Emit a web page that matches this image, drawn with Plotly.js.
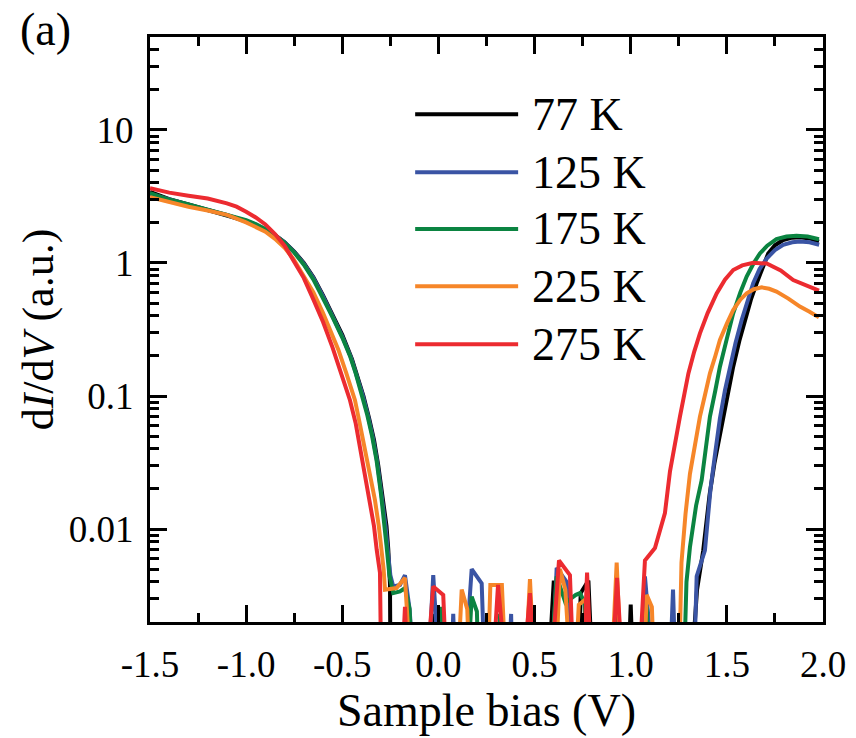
<!DOCTYPE html>
<html>
<head>
<meta charset="utf-8">
<script src="https://cdn.plot.ly/plotly-3.0.1.min.js"></script>
<style>html,body{margin:0;padding:0;background:#fff;}#chart{width:856px;height:738px;}</style>
</head>
<body>
<div id="chart"></div>
<script>
// Z = value below the visible range (curve drops out of the log window)
const Z = 0.0004;

const seriesNames = ["77 K", "125 K", "175 K", "225 K", "275 K"];
const seriesColors = ["#000000", "#3a54a4", "#0b8441", "#f68629", "#ec2b30"];

const bias77 = [-1.5,-1.4,-1.3,-1.2,-1.1,-1.0,-0.95,-0.9,-0.85,-0.8,-0.75,-0.7,-0.65,-0.6,-0.55,-0.5,-0.45,-0.42,-0.39,-0.36,-0.335,-0.313,-0.287,-0.27,-0.261,-0.252,-0.248,
  -0.05,-0.03,-0.015,0.56,0.6,0.63,0.72,0.74,0.78,0.81,0.98,1.0,1.02,
  1.3,1.345,1.377,1.41,1.435,1.464,1.5,1.533,1.565,1.594,1.625,1.655,1.685,1.715,1.75,1.793,1.84,1.88,1.93,1.979];
const dIdV77 = [3.42,3.02,2.75,2.5,2.3,2.07,1.94,1.78,1.62,1.43,1.22,1.0,0.78,0.57,0.407,0.288,0.19,0.141,0.1,0.0676,0.0468,0.0302,0.0166,0.0105,0.0071,0.0039,Z,
  Z,0.0023,Z,Z,0.0041,Z,Z,0.0033,0.0041,Z,Z,0.0027,Z,
  Z,0.0035,0.0069,0.018,0.031,0.052,0.095,0.166,0.26,0.373,0.53,0.704,0.92,1.18,1.36,1.49,1.55,1.56,1.53,1.45];

const bias125 = [-1.5,-1.4,-1.3,-1.2,-1.1,-1.0,-0.95,-0.9,-0.85,-0.8,-0.75,-0.7,-0.65,-0.6,-0.55,-0.5,-0.455,-0.425,-0.395,-0.365,-0.34,-0.317,-0.292,-0.275,-0.262,-0.25,-0.235,-0.2,-0.174,-0.15,-0.113,
  -0.065,-0.027,0.017,0.06,0.077,0.095,0.121,0.173,0.225,0.248,0.355,0.378,0.39,0.58,0.615,0.667,0.702,1.04,1.074,1.135,1.195,1.22,1.24,
  1.322,1.343,1.386,1.415,1.44,1.464,1.49,1.516,1.545,1.577,1.607,1.637,1.67,1.707,1.75,1.793,1.84,1.88,1.93,1.98];
const dIdV125 = [3.3,3.0,2.75,2.5,2.3,2.05,1.93,1.79,1.62,1.43,1.21,0.99,0.77,0.56,0.4,0.28,0.195,0.145,0.103,0.07,0.048,0.031,0.017,0.0105,0.0066,0.0045,0.0037,0.0038,0.0045,0.0025,Z,
  Z,0.0045,Z,Z,0.0023,Z,Z,0.005,0.0039,Z,Z,0.0023,Z,Z,0.0051,0.004,Z,Z,0.0044,Z,Z,0.0035,Z,
  Z,0.0044,0.0069,0.02,0.038,0.068,0.11,0.166,0.25,0.373,0.52,0.704,0.9,1.08,1.25,1.37,1.43,1.45,1.43,1.37];

const bias175 = [-1.5,-1.4,-1.3,-1.2,-1.1,-1.0,-0.95,-0.9,-0.85,-0.8,-0.75,-0.7,-0.65,-0.6,-0.55,-0.5,-0.46,-0.43,-0.4,-0.37,-0.345,-0.322,-0.298,-0.28,-0.27,-0.255,-0.235,-0.2,-0.174,-0.15,-0.125,
  0.0,0.017,0.035,0.14,0.173,0.2,0.215,0.3,0.32,0.34,0.45,0.476,0.5,0.57,0.615,0.66,0.715,0.736,0.76,0.78,0.9,0.927,0.95,1.06,1.083,1.105,
  1.27,1.29,1.308,1.34,1.369,1.39,1.412,1.44,1.464,1.5,1.533,1.57,1.603,1.64,1.672,1.71,1.758,1.81,1.862,1.92,1.979];
const dIdV175 = [3.35,3.0,2.75,2.52,2.33,2.1,1.96,1.8,1.62,1.42,1.2,0.97,0.75,0.55,0.39,0.275,0.2,0.148,0.106,0.072,0.05,0.033,0.018,0.011,0.0075,0.0045,0.0033,0.0034,0.0036,0.0025,Z,
  Z,0.0026,Z,Z,0.0031,0.0024,Z,Z,0.0023,Z,Z,0.0026,Z,Z,0.0044,0.0028,0.0032,0.0033,0.0028,Z,Z,0.0026,Z,Z,0.0026,Z,
  Z,0.004,0.0073,0.015,0.0233,0.04,0.07,0.11,0.166,0.27,0.418,0.6,0.79,1.0,1.18,1.35,1.51,1.58,1.6,1.58,1.51];

const bias225 = [-1.5,-1.4,-1.3,-1.2,-1.1,-1.0,-0.95,-0.9,-0.85,-0.8,-0.755,-0.7,-0.65,-0.6,-0.55,-0.52,-0.48,-0.434,-0.41,-0.382,-0.355,-0.33,-0.31,-0.295,-0.285,-0.278,-0.218,-0.174,-0.131,
  0.09,0.121,0.15,0.17,0.25,0.27,0.33,0.36,0.44,0.476,0.51,0.6,0.632,0.66,0.7,0.73,0.77,0.83,0.89,0.927,0.96,1.06,1.083,1.11,1.13,
  1.247,1.264,1.285,1.308,1.335,1.36,1.385,1.412,1.44,1.464,1.5,1.533,1.57,1.603,1.64,1.681,1.72,1.758,1.82,1.88,1.93,1.979];
const dIdV225 = [3.12,2.85,2.65,2.48,2.3,2.02,1.88,1.72,1.52,1.3,1.08,0.8,0.6,0.42,0.28,0.222,0.15,0.093,0.063,0.039,0.025,0.0165,0.0105,0.007,0.005,0.0035,0.0036,0.0043,Z,
  Z,0.0035,0.0025,Z,Z,0.0038,0.0038,Z,Z,0.0042,Z,Z,0.005,0.0035,Z,0.0027,0.003,Z,Z,0.0056,Z,Z,0.0032,0.0026,Z,
  Z,0.0056,0.013,0.026,0.045,0.07,0.1,0.148,0.2,0.264,0.35,0.443,0.53,0.591,0.635,0.656,0.64,0.609,0.54,0.47,0.43,0.39];

const bias275 = [-1.5,-1.4,-1.3,-1.2,-1.1,-1.05,-1.0,-0.95,-0.9,-0.85,-0.8,-0.75,-0.7,-0.65,-0.6,-0.55,-0.5,-0.46,-0.43,-0.4,-0.375,-0.356,-0.335,-0.321,-0.304,-0.295,
  -0.2,-0.174,-0.15,-0.079,-0.027,0.025,0.051,0.268,0.31,0.372,0.424,0.476,0.51,0.57,0.627,0.684,0.71,0.745,0.773,0.805,0.891,0.929,0.97,
  1.031,1.074,1.126,1.15,1.178,1.204,1.23,1.256,1.28,1.3,1.33,1.36,1.4,1.447,1.49,1.533,1.58,1.637,1.707,1.78,1.845,1.92,1.979];
const dIdV275 = [3.65,3.38,3.2,3.05,2.81,2.65,2.43,2.2,1.95,1.65,1.35,1.03,0.77,0.53,0.36,0.23,0.14,0.093,0.062,0.036,0.023,0.0165,0.0105,0.007,0.0047,Z,
  Z,0.0026,Z,Z,0.0037,0.0032,Z,Z,0.0038,Z,Z,0.0033,Z,Z,0.0058,0.0045,Z,Z,0.0047,Z,Z,0.0043,Z,
  Z,0.0058,0.0072,0.0095,0.0132,0.027,0.045,0.07,0.105,0.148,0.215,0.296,0.42,0.591,0.75,0.886,0.96,1.005,0.99,0.88,0.745,0.67,0.619];

const xTickVals = [-1.5,-1.0,-0.5,0.0,0.5,1.0,1.5,2.0];
const xTickText = ["-1.5","-1.0","-0.5","0.0","0.5","1.0","1.5","2.0"];
const yTickVals = [0.01,0.1,1,10];
const yTickText = ["0.01","0.1","1","10"];
const yMinorVals = [0.002,0.003,0.004,0.005,0.006,0.007,0.008,0.009,0.02,0.03,0.04,0.05,0.06,0.07,0.08,0.09,
  0.2,0.3,0.4,0.5,0.6,0.7,0.8,0.9,2,3,4,5,6,7,8,9,20,30,40];

const xs = [bias77,bias125,bias175,bias225,bias275];
const ys = [dIdV77,dIdV125,dIdV175,dIdV225,dIdV275];

const FONT = "Liberation Serif";

const traces = xs.map((x,i)=>({
  x: x, y: ys[i], type: "scatter", mode: "lines", name: seriesNames[i],
  line: {color: seriesColors[i], width: 4}, showlegend: false
}));

// Manual legend (long line samples like the original)
const legY = [0.868,0.769,0.672,0.574,0.475];
const shapes = seriesNames.map((n,i)=>({
  type:"line", xref:"paper", yref:"paper", x0:0.394, x1:0.547, y0:legY[i], y1:legY[i],
  line:{color:seriesColors[i], width:4}
}));
const annotations = seriesNames.map((n,i)=>({
  text:n, xref:"paper", yref:"paper", x:0.565, y:legY[i], xanchor:"left", yanchor:"middle",
  showarrow:false, font:{family:FONT, size:46, color:"#000"}
}));
annotations.push({text:"(a)", xref:"paper", yref:"paper", x:-0.156, y:1.012, xanchor:"center", yanchor:"middle",
  showarrow:false, font:{family:FONT, size:46, color:"#000"}});

const axisCommon = {
  showline:true, linewidth:3, linecolor:"#000", mirror:"allticks",
  ticks:"inside", ticklen:17, tickwidth:3, tickcolor:"#000",
  showgrid:false, zeroline:false, tickfont:{family:FONT, size:37, color:"#000"}
};

const layout = {
  width:856, height:738,
  margin:{l:150, r:33, t:37, b:116},
  paper_bgcolor:"#fff", plot_bgcolor:"#fff",
  font:{family:FONT, color:"#000"},
  showlegend:false,
  xaxis: Object.assign({}, axisCommon, {
    range:[-1.5,2.0], tickmode:"array", tickvals:xTickVals, ticktext:xTickText,
    minor:{dtick:0.25, tick0:0, ticks:"inside", ticklen:9, tickwidth:3, tickcolor:"#000"},
    title:{text:"Sample bias (V)", font:{family:FONT, size:46, color:"#000"}, standoff:8},
    ticklabelstandoff: 8
  }),
  yaxis: Object.assign({}, axisCommon, {
    type:"log", range:[Math.log10(0.002), Math.log10(50)],
    tickmode:"array", tickvals:yTickVals, ticktext:yTickText,
    minor:{tickmode:"array", tickvals:yMinorVals, ticks:"inside", ticklen:9, tickwidth:3, tickcolor:"#000"},
    title:{text:"d<i>I</i>/d<i>V</i> (a.u.)", font:{family:FONT, size:44, color:"#000"}, standoff:2},
    ticklabelstandoff: 6
  }),
  shapes: shapes,
  annotations: annotations
};

Plotly.newPlot("chart", traces, layout, {staticPlot:true, displayModeBar:false});
</script>
</body>
</html>
